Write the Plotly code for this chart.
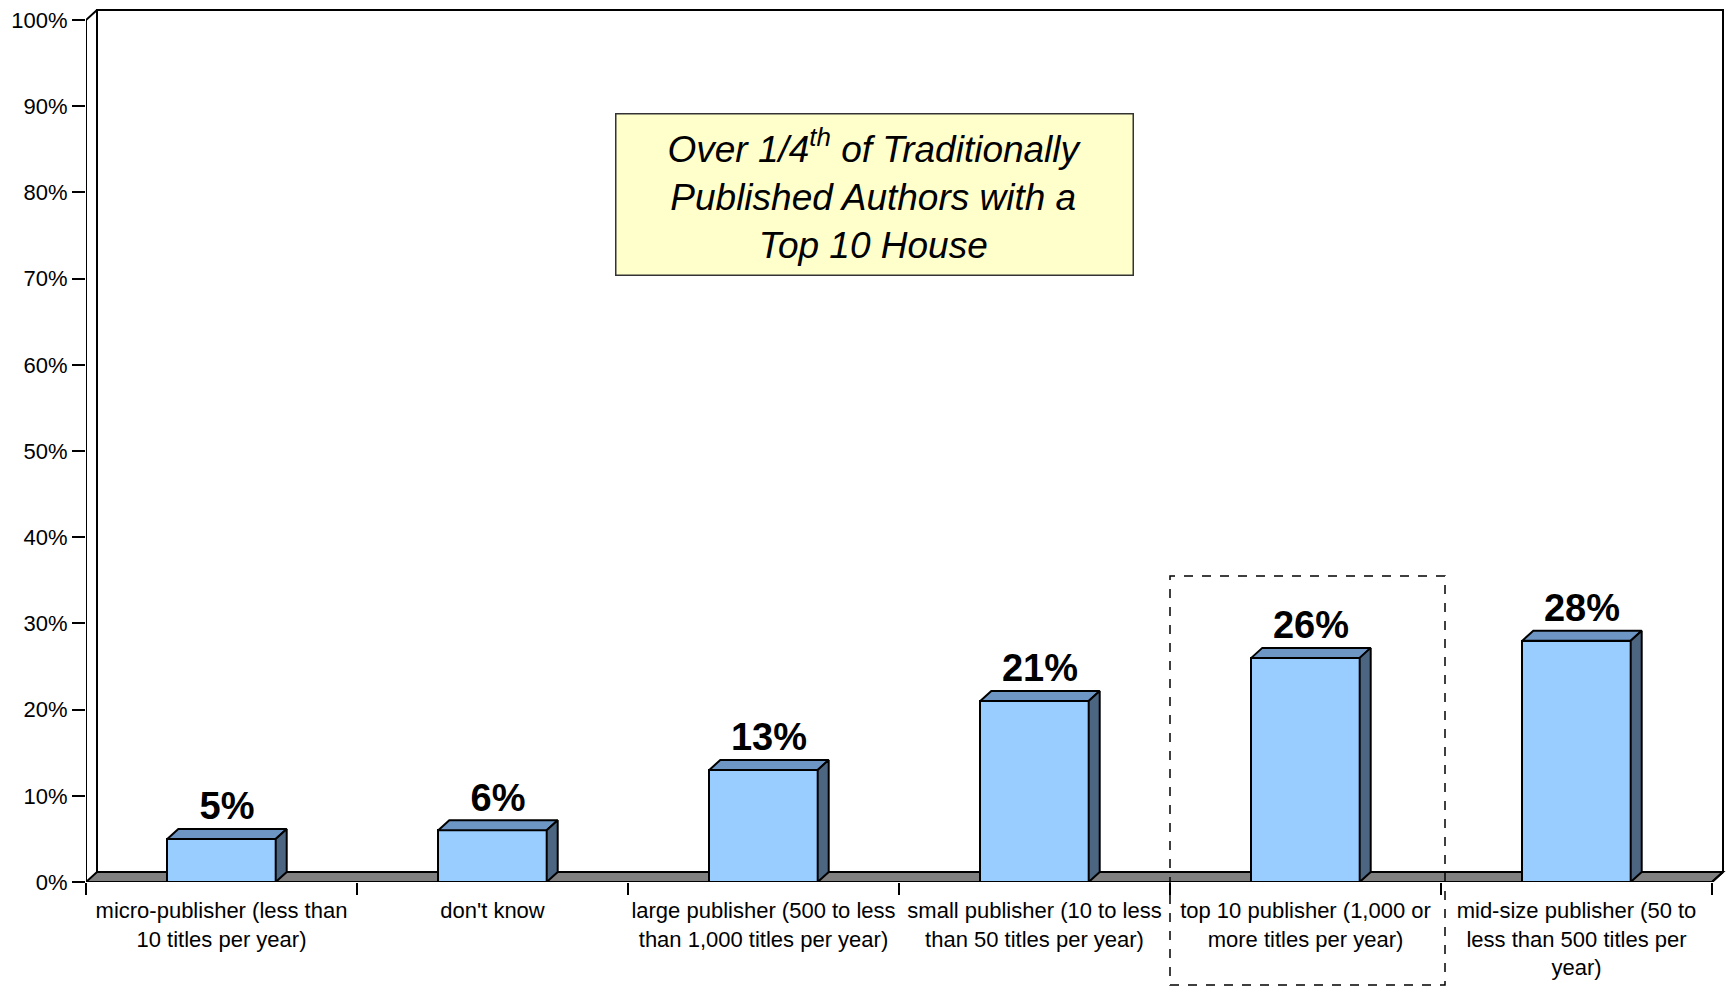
import plotly.graph_objects as go

# ---------------- data ----------------
categories = [
    "micro-publisher (less than<br>10 titles per year)",
    "don't know",
    "large publisher (500 to less<br>than 1,000 titles per year)",
    "small publisher (10 to less<br>than 50 titles per year)",
    "top 10 publisher (1,000 or<br>more titles per year)",
    "mid-size publisher (50 to<br>less than 500 titles per<br>year)",
]
values = [5, 6, 13, 21, 26, 28]
y_tick_values = [0, 10, 20, 30, 40, 50, 60, 70, 80, 90, 100]
y_tick_labels = ["0%", "10%", "20%", "30%", "40%", "50%", "60%", "70%", "80%", "90%", "100%"]
highlight_index = 4
callout_lines = ["Over 1/4<sup>th</sup> of Traditionally", "Published Authors with a", "Top 10 House"]

# ---------------- layout geometry ----------------
W, H = 1729, 994
L, R, T, B = 86, 3, 7, 112
plot_w = W - L - R
plot_h = H - T - B
n = len(categories)
depth_x_px, depth_y_px = 11, 10
u = (plot_w - depth_x_px - 3) / n          # px per category
ppy = 8.62                                 # px per percent
xmin = -0.5
xmax = xmin + plot_w / u
ymax = plot_h / ppy
dx = depth_x_px / u
dy = depth_y_px / ppy
bw = 0.40

FONT = "Liberation Sans, Arial, sans-serif"
FRONT = "#99CCFF"
TOP = "#6E96C4"
SIDE = "#4C6682"

fig = go.Figure()

# front faces
fig.add_trace(go.Bar(
    x=list(range(n)), y=values, width=bw,
    marker=dict(color=FRONT, line=dict(color="black", width=2)),
    hoverinfo="skip", showlegend=False,
))

# top and side faces
for i, v in enumerate(values):
    xl, xr = i - bw / 2, i + bw / 2
    fig.add_trace(go.Scatter(
        x=[xl, xr, xr + dx, xl + dx, xl], y=[v, v, v + dy, v + dy, v],
        mode="lines", fill="toself", fillcolor=TOP,
        line=dict(color="black", width=2), hoverinfo="skip", showlegend=False,
    ))
    fig.add_trace(go.Scatter(
        x=[xr, xr + dx, xr + dx, xr, xr], y=[0, dy, v + dy, v, 0],
        mode="lines", fill="toself", fillcolor=SIDE,
        line=dict(color="black", width=2), hoverinfo="skip", showlegend=False,
    ))

# front axis edges
x_lo, x_hi = -0.5, n - 0.5
fig.add_trace(go.Scatter(
    x=[x_lo + dx, x_lo, x_lo, x_hi, x_hi + dx],
    y=[100 + dy, 100, 0, 0, dy],
    mode="lines", line=dict(color="black", width=2),
    cliponaxis=False, hoverinfo="skip", showlegend=False,
))

# value labels
fig.add_trace(go.Scatter(
    x=[i + dx / 2 for i in range(n)], y=[v + dy for v in values],
    mode="text", text=[f"<b>{v}%</b>" for v in values],
    textposition="top center",
    textfont=dict(family=FONT, size=38, color="black"),
    cliponaxis=False, hoverinfo="skip", showlegend=False,
))

shapes = [
    # floor
    dict(type="path", xref="x", yref="y", layer="below",
         path=f"M {x_lo},0 L {x_hi},0 L {x_hi + dx},{dy} L {x_lo + dx},{dy} Z",
         fillcolor="#808080", line=dict(color="black", width=2)),
    # back walls
    dict(type="path", xref="x", yref="y", layer="below",
         path=f"M {x_lo + dx},{dy} L {x_lo + dx},{100 + dy} L {x_hi + dx},{100 + dy} L {x_hi + dx},{dy}",
         line=dict(color="black", width=2)),
]

# dashed highlight box around the top 10 publisher category
def px_paper(xd):
    return (xd - xmin) / (xmax - xmin)

shapes.append(dict(
    type="rect", xref="paper", yref="paper",
    x0=px_paper(highlight_index - 0.5), x1=px_paper(highlight_index + 0.5) + 4 / plot_w,
    y0=-103 / plot_h, y1=(values[highlight_index] + 9.5) / ymax,
    line=dict(color="black", width=1.5, dash="dash"),
))

fig.update_layout(
    width=W, height=H,
    margin=dict(l=L, r=R, t=T, b=B, pad=0),
    paper_bgcolor="white", plot_bgcolor="white",
    showlegend=False,
    bargap=0,
    shapes=shapes,
    font=dict(family=FONT, color="black"),
    xaxis=dict(
        range=[xmin, xmax], tickmode="array", tickvals=list(range(n)), ticktext=categories,
        ticks="", showline=False, showgrid=False, zeroline=False,
        tickfont=dict(family=FONT, size=22, color="black"),
        ticklabelstandoff=13,
        minor=dict(tickmode="array", tickvals=[i - 0.5 for i in range(n + 1)],
                   ticks="outside", ticklen=12, tickwidth=2, tickcolor="black", showgrid=False),
    ),
    yaxis=dict(
        range=[0, ymax], tickmode="array", tickvals=y_tick_values, ticktext=y_tick_labels,
        ticks="outside", ticklen=13, tickwidth=2, tickcolor="black",
        showline=False, showgrid=False, zeroline=False,
        tickfont=dict(family=FONT, size=22, color="black"),
    ),
    annotations=[dict(
        xref="paper", yref="paper",
        x=(874 - L) / plot_w, y=(882 - 194) / plot_h,
        xanchor="center", yanchor="middle",
        text="<br>".join(callout_lines),
        showarrow=False, align="center",
        font=dict(family=FONT, size=37, color="black", style="italic"),
        bgcolor="#FFFFCC", bordercolor="#333333", borderwidth=1.5, borderpad=2,
        width=512, height=156,
    )],
)

fig.write_html("out.html", config={"displayModeBar": False},
               post_script="document.body.style.margin='0';")
